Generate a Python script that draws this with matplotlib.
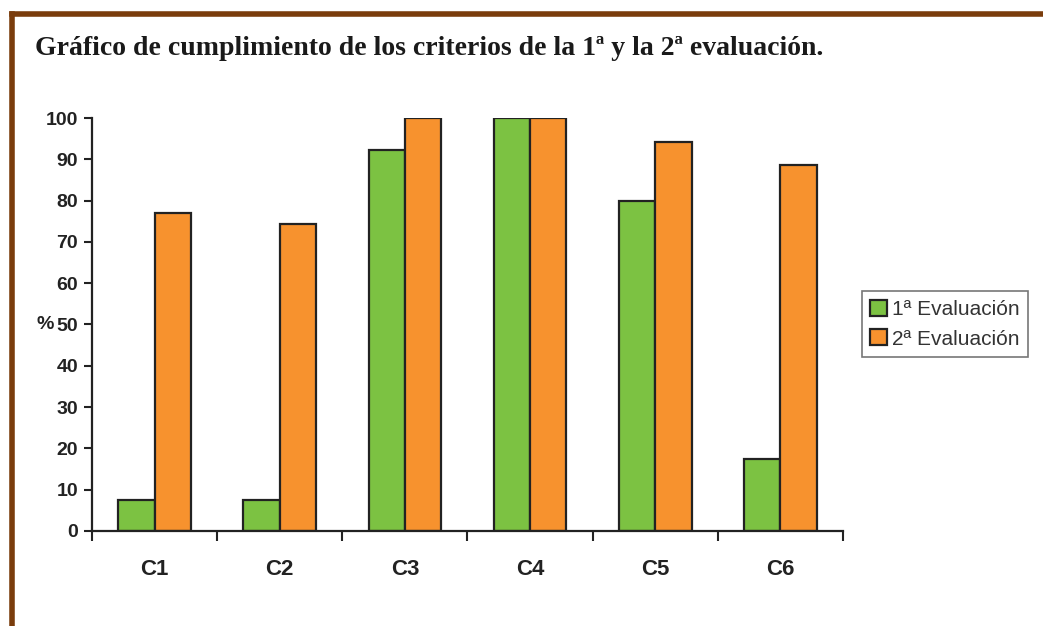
import numpy as np
import matplotlib.pyplot as plt
from matplotlib.lines import Line2D

criterios = ["C1", "C2", "C3", "C4", "C5", "C6"]
eval1 = [7.5, 7.5, 92.3, 100, 80, 17.4]
eval2 = [77.0, 74.3, 100, 100, 94.2, 88.6]
series_labels = ["1ª Evaluación", "2ª Evaluación"]
yticks = [0, 10, 20, 30, 40, 50, 60, 70, 80, 90, 100]

green = "#7cc242"
orange = "#f7922e"

fig = plt.figure(figsize=(10.43, 6.26), dpi=100)
ax = fig.add_axes([0.0882, 0.1518, 0.72, 0.6597])

x = np.arange(len(criterios))
w = 0.29
ax.bar(x - w / 2, eval1, w, color=green, edgecolor="#222222", linewidth=1.6,
       label=series_labels[0])
ax.bar(x + w / 2, eval2, w, color=orange, edgecolor="#222222", linewidth=1.6,
       label=series_labels[1])

ax.set_xlim(-0.5, len(criterios) - 0.5)
ax.set_ylim(0, 100)
for s in ["top", "right"]:
    ax.spines[s].set_visible(False)
for s in ["left", "bottom"]:
    ax.spines[s].set_linewidth(1.6)
    ax.spines[s].set_color("#222222")

ax.set_yticks(yticks)
ax.set_yticklabels([str(v) for v in yticks], fontfamily="Liberation Sans",
                   fontweight="bold", fontsize=14, color="#222222")
ax.tick_params(axis="y", length=6, width=1.5, color="#222222", pad=4)

ax.set_xticks(np.arange(-0.5, len(criterios), 1.0))
ax.set_xticklabels([])
ax.tick_params(axis="x", which="major", length=7, width=1.5, color="#222222")
ax.set_xticks(x, minor=True)
ax.set_xticklabels(criterios, minor=True, fontfamily="Liberation Sans",
                   fontweight="bold", fontsize=16, color="#222222")
ax.tick_params(axis="x", which="minor", length=0, pad=20)

ax.set_ylabel("%", rotation=0, fontfamily="Liberation Sans", fontweight="bold",
              fontsize=14, color="#222222", va="center")
ax.yaxis.set_label_coords(-0.062, 0.5)

leg = ax.legend(loc="upper left", bbox_to_anchor=(1.025, 0.58), frameon=True,
                fancybox=False, edgecolor="#555555",
                prop={"family": "Liberation Sans", "size": 15},
                handlelength=0.8, handleheight=0.8, handletextpad=0.25,
                borderpad=0.4, labelspacing=0.5, borderaxespad=0)
leg.get_frame().set_linewidth(1.2)
for t in leg.get_texts():
    t.set_color("#333333")

fig.text(0.034, 0.923, "Gráfico de cumplimiento de los criterios de la 1ª y la 2ª evaluación.",
         fontfamily="Liberation Serif", fontweight="bold", fontsize=20,
         va="center", ha="left", color="#1a1a1a")

brown = "#7a3c0c"
fig.add_artist(Line2D([0.0115, 1.0], [0.978, 0.978], color=brown, linewidth=4,
                      transform=fig.transFigure))
fig.add_artist(Line2D([0.0115, 0.0115], [0.0, 0.978], color=brown, linewidth=4,
                      transform=fig.transFigure))

fig.savefig("out.png", dpi=100)
